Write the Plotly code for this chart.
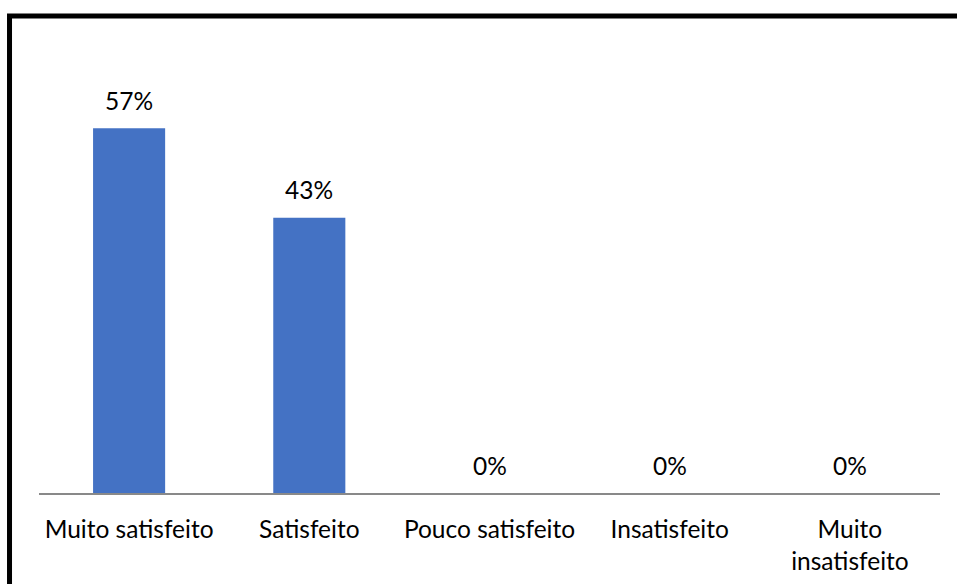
import plotly.graph_objects as go

categories = ["Muito satisfeito", "Satisfeito", "Pouco satisfeito", "Insatisfeito", "Muito<br>insatisfeito"]
values = [57, 43, 0, 0, 0]
value_labels = ["57%", "43%", "0%", "0%", "0%"]

W, H = 957, 584
ml, mr, mt, mb = 39, 16.5, 109.3, 91.3
plot_w = W - ml - mr
plot_h = H - mt - mb

FONT = "Lato"
FSIZE = 24.5
fig = go.Figure()
fig.add_trace(go.Bar(
    x=categories, y=values, width=0.4,
    marker=dict(color="#4472C4", line=dict(width=0)),
    hoverinfo="skip",
))

for c, v, t in zip(categories, values, value_labels):
    fig.add_annotation(x=c, y=v, text=t, showarrow=False, yanchor="bottom",
                       yshift=11.5, font=dict(family=FONT, size=FSIZE, color="#000000"))

# outer frame (left and top edges visible, right/bottom run off the page)
def px_to_paper_x(px):
    return (px - ml) / plot_w

def px_to_paper_y(py):
    return (H - mb - py) / plot_h

fig.add_shape(type="rect", xref="paper", yref="paper",
              x0=px_to_paper_x(9.5), x1=px_to_paper_x(1000),
              y0=px_to_paper_y(650), y1=px_to_paper_y(16.5),
              line=dict(color="#000000", width=5), fillcolor="rgba(0,0,0,0)")

fig.update_layout(
    width=W, height=H,
    margin=dict(l=ml, r=mr, t=mt, b=mb, autoexpand=False),
    paper_bgcolor="#FFFFFF", plot_bgcolor="#FFFFFF",
    showlegend=False,
    font=dict(family=FONT, size=FSIZE, color="#000000"),
    xaxis=dict(showline=True, linecolor="#898989", linewidth=1.5, ticks="",
               showgrid=False, zeroline=False, ticklabelstandoff=14,
               tickfont=dict(family=FONT, size=FSIZE, color="#000000")),
    yaxis=dict(range=[0, 60], visible=False, showgrid=False, zeroline=False),
)

fig.write_html("out.html")
